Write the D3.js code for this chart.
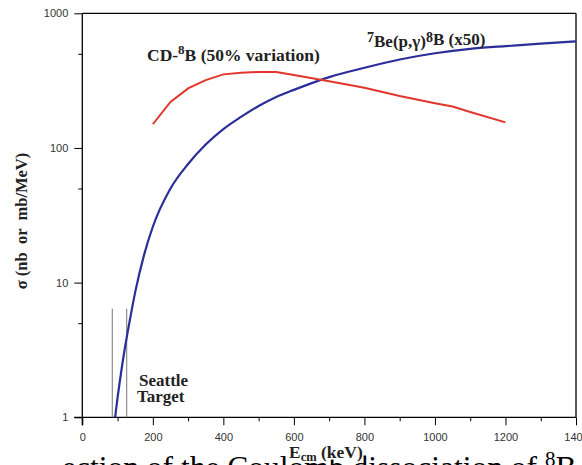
<!DOCTYPE html>
<html><head><meta charset="utf-8">
<script src="https://cdn.jsdelivr.net/npm/d3@7"></script>
<style>body{margin:0;background:#fff} svg{display:block} text{white-space:pre}</style>
</head><body><svg id="c" width="582" height="465"></svg>
<script>
// ---- data ----
const blueE = [93,100,107,121,135,150,175,200,250,300,350,400,450,500,550,600,700,800,900,1000,1100,1200,1300,1400];
const blueS = [1.0,1.4,1.9,3.3,5.3,8.5,16,26,50,76,106,138,170,205,239,270,336,394,454,505,545,570,596,620];
const redE = [200,250,300,350,400,450,500,550,600,700,800,900,1000,1050,1100,1200];
const redS = [150,220,277,319,352,362,367,366,348,313,280,243,215,203,185,155];
const seattleE = [85,126];
const seattleTop = 6.4;
const xMajor = [0,200,400,600,800,1000,1200,1400];
const xMinor = [100,300,500,700,900,1100,1300];
const yMajor = [1,10,100,1000];
const yMinor = [5,50,500];

// ---- layout ----
const svg = d3.select("#c");
const x = d3.scaleLinear().domain([0,1400]).range([82.3,576]);
const y = d3.scaleLog().domain([1,1000]).range([417.3,13.3]);
const serif = "'Liberation Serif','Times New Roman',serif";
const sans = "'Liberation Sans',Arial,sans-serif";

// caption fragment at bottom (drawn first, underneath the axis title)
const cap = svg.append("text").attr("x",62).attr("y",478).attr("font-family",serif).attr("font-size",31.5).attr("fill","#000");
cap.append("tspan").text("ection of the Coulomb dissociation of ");
cap.append("tspan").attr("font-size",21).attr("dy",-12).text("8");
cap.append("tspan").attr("dy",12).text("B");

// axes
const gx = svg.append("g").attr("transform",`translate(0,${y(1)})`)
  .call(d3.axisBottom(x).tickValues(xMajor).tickSize(8).tickSizeOuter(0).tickPadding(8).tickFormat(d3.format("d")));
const gx2 = svg.append("g").attr("transform",`translate(0,${y(1)})`)
  .call(d3.axisBottom(x).tickValues(xMinor).tickSize(4).tickSizeOuter(0).tickFormat(""));
const gy = svg.append("g").attr("transform",`translate(${x(0)},0)`)
  .call(d3.axisLeft(y).tickValues(yMajor).tickSize(8).tickSizeOuter(0).tickPadding(6).tickFormat(d3.format("d")));
const gy2 = svg.append("g").attr("transform",`translate(${x(0)},0)`)
  .call(d3.axisLeft(y).tickValues(yMinor).tickSize(4).tickSizeOuter(0).tickFormat(""));
[gx,gx2,gy,gy2].forEach(g=>{
  g.select(".domain").remove();
  g.selectAll("line").attr("stroke","#000").attr("stroke-width",1);
  g.selectAll("text").attr("font-family",sans).attr("font-size",11).attr("fill","#333");
});
// frame lines
const frame = svg.append("g").attr("stroke","#000").attr("stroke-width",1.3).attr("fill","none");
frame.append("line").attr("x1",x(0)-8).attr("x2",x(1400)).attr("y1",y(1)).attr("y2",y(1));
frame.append("line").attr("x1",x(0)).attr("x2",x(0)).attr("y1",y(1000)).attr("y2",y(1)+8);
frame.append("line").attr("x1",x(0)).attr("x2",x(1400)).attr("y1",y(1000)).attr("y2",y(1000));
frame.append("line").attr("x1",x(1400)).attr("x2",x(1400)).attr("y1",y(1000)).attr("y2",y(1));

// seattle target lines
svg.append("g").selectAll("line").data(seattleE).join("line")
  .attr("x1",d=>x(d)).attr("x2",d=>x(d)).attr("y1",y(seattleTop)).attr("y2",y(1))
  .attr("stroke","#777").attr("stroke-width",1);

// curves
const blue = blueE.map((e,i)=>[e,blueS[i]]);
const red = redE.map((e,i)=>[e,redS[i]]);
svg.append("path").datum(blue)
  .attr("d",d3.line().x(d=>x(d[0])).y(d=>y(d[1])).curve(d3.curveMonotoneX))
  .attr("fill","none").attr("stroke","#2b2e98").attr("stroke-width",2.2);
svg.append("path").datum(red)
  .attr("d",d3.line().x(d=>x(d[0])).y(d=>y(d[1])))
  .attr("fill","none").attr("stroke","#e2352b").attr("stroke-width",2);

// labels
function label(xp,yp,parts,size){
  const t = svg.append("text").attr("x",xp).attr("y",yp).attr("font-family",serif)
    .attr("font-weight","bold").attr("font-size",size).attr("fill","#222");
  parts.forEach(p=>t.append("tspan").attr("font-size",p.s||size).attr("dy",p.dy||0).text(p.t));
  return t;
}
label(147,61,[{t:"CD-"},{t:"8",s:13,dy:-7.5},{t:"B (50% variation)",dy:7.5}],17.5);
label(367,42,[{t:"7",s:14},{t:"Be(p,\u03b3)",dy:4.5},{t:"8",s:14,dy:-4.5},{t:"B (x50)",dy:2.5}],17);
label(139,386,[{t:"Seattle"}],17);
label(137,402,[{t:"Target"}],17);
const xt = label(289,458,[{t:"E"},{t:"cm",s:12.5,dy:3},{t:" (keV)",dy:-3}],17.5);
xt.attr("stroke","#fff").attr("stroke-width",3).attr("paint-order","stroke");
svg.append("text").attr("transform","translate(27,221) rotate(-90)").attr("text-anchor","middle")
  .attr("font-family",serif).attr("font-weight","bold").attr("font-size",16.5).attr("fill","#222")
  .text("\u03c3 (nb  or  mb/MeV)");
</script></body></html>
